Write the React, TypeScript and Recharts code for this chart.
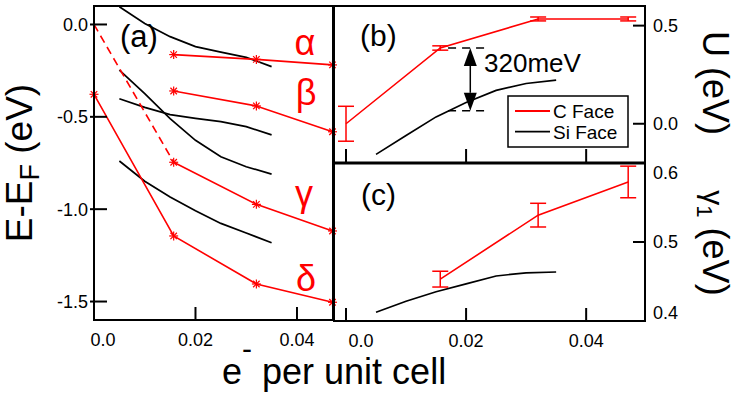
import React from "react";
import { LineChart, Line, XAxis, YAxis, ErrorBar, ReferenceLine, Legend } from "recharts";

// doping (e- per unit cell)
const cFaceDoping = [0, 0.0157, 0.032, 0.047];
const siFaceDoping = [0.005, 0.01, 0.015, 0.02, 0.025, 0.03, 0.035];

// (a) band energies E-EF (eV), C face
const alphaC = [null, -0.163, -0.189, -0.219];
const betaC = [null, -0.36, -0.441, -0.581];
const gammaC = [0.0, -0.746, -0.974, -1.118];
const deltaC = [-0.378, -1.145, -1.405, -1.504];

// (a) Si face bands
const siBand1 = [0.096, 0.005, -0.066, -0.12, -0.15, -0.178, -0.228];
const siBand2 = [-0.247, -0.375, -0.51, -0.627, -0.716, -0.77, -0.81];
const siBand3 = [-0.402, -0.449, -0.488, -0.508, -0.526, -0.553, -0.598];
const siBand4 = [-0.739, -0.849, -0.934, -1.008, -1.077, -1.129, -1.182];

// (b) U (eV)
const uC = [0.0, 0.386, 0.534, 0.534];
const uCErr = [0.089, 0.011, 0.01, 0.01];
const uSi = [-0.156, -0.06, 0.035, 0.108, 0.17, 0.205, 0.222];

// (c) gamma1 (eV)
const g1C = [null, 0.453, 0.534, 0.576];
const g1CErr = [null, 0.01, 0.015, 0.02];
const g1Si = [0.411, 0.425, 0.437, 0.447, 0.457, 0.461, 0.462];

// 320 meV marker in (b)
const gapTop = 0.386;
const gapBottom = 0.066;
const gapFrom = 0.017;
const gapTo = 0.0237;
const gapArrowX = 0.0207;

const xTicks = [0, 0.02, 0.04];
const energyTicks = [0, -0.5, -1.0, -1.5];
const uTicks = [0.5, 0.0];
const g1Ticks = [0.4, 0.5, 0.6];

const W = 737;
const H = 397;
const boxA = { l: 94, t: 6, r: 333, b: 320 };
const boxB = { l: 334, t: 6, r: 645, b: 163 };
const boxC = { l: 334, t: 163, r: 645, b: 321 };

const RED = "#ff0000";
const FONT = "'Liberation Sans', Arial, sans-serif";

const pts = (xs: number[], ys: (number | null)[], err?: (number | null)[]) =>
  xs
    .map((x, i) => ({ x, y: ys[i], err: err ? err[i] : undefined }))
    .filter((p) => p.y != null);

const Star = (props: any) => {
  const { cx, cy } = props;
  if (cx == null || cy == null) return null;
  const r = 4.5;
  const d = r * 0.72;
  return (
    <g key={`s-${cx}-${cy}`} stroke={RED} strokeWidth={1.2}>
      <line x1={cx - r} x2={cx + r} y1={cy} y2={cy} />
      <line x1={cx} x2={cx} y1={cy - r} y2={cy + r} />
      <line x1={cx - d} x2={cx + d} y1={cy - d} y2={cy + d} />
      <line x1={cx - d} x2={cx + d} y1={cy + d} y2={cy - d} />
    </g>
  );
};

const fmtX = (v: number) => (v === 0 ? "0.0" : v.toFixed(2));

const LeftTickA = ({ x, y, payload }: any) => (
  <g>
    <line x1={x + 2} x2={x + 19} y1={y} y2={y} stroke="#000" strokeWidth={2} />
    <text x={x} y={y} dy="0.36em" textAnchor="end" fontSize={18} fontFamily={FONT} fill="#000">
      {payload.value.toFixed(1)}
    </text>
  </g>
);

// zeroShift moves the "0.0" label off the panel corner, as in the original
const BottomTick = ({ x, y, payload, zeroShift = 0 }: any) => (
  <g>
    <line x1={x} x2={x} y1={y - 13} y2={y - 26} stroke="#000" strokeWidth={2} />
    <text
      x={x + (payload.value === 0 ? zeroShift : 0)}
      y={y}
      dy="0.72em"
      textAnchor="middle"
      fontSize={18}
      fontFamily={FONT}
      fill="#000"
    >
      {fmtX(payload.value)}
    </text>
  </g>
);

const BottomTickOnly = ({ x, y }: any) => (
  <line x1={x} x2={x} y1={y} y2={y - 14} stroke="#000" strokeWidth={2} />
);

const LeftTickOnly = ({ x, y, payload }: any) =>
  payload.value === 0.4 || payload.value === 0.6 ? <g /> : (
    <line x1={x} x2={x + 12} y1={y} y2={y} stroke="#000" strokeWidth={2} />
  );

const rightNudge: Record<string, number> = { "0.6": 10, "0.4": -8 };

const RightTick = ({ x, y, payload, nudge }: any) => {
  const label = payload.value.toFixed(1);
  const dy = nudge ? rightNudge[label] || 0 : 0;
  const edge = nudge && (label === "0.6" || label === "0.4");
  return (
    <g>
      {!edge && <line x1={x - 8} x2={x - 20} y1={y} y2={y} stroke="#000" strokeWidth={2} />}
      <text x={x} y={y + dy} dy="0.36em" textAnchor="start" fontSize={18} fontFamily={FONT} fill="#000">
        {label}
      </text>
    </g>
  );
};

const GapArrow = (props: any) => {
  const { x1, y1, x2, y2 } = props;
  const top = Math.min(y1, y2);
  const bot = Math.max(y1, y2);
  const len = 18;
  const hw = 6.5;
  return (
    <g>
      <line x1={x1} x2={x2} y1={top + len} y2={bot - len} stroke="#000" strokeWidth={1.5} />
      <polygon points={`${x1},${top} ${x1 - hw},${top + len} ${x1 + hw},${top + len}`} fill="#000" />
      <polygon points={`${x1},${bot} ${x1 - hw},${bot - len} ${x1 + hw},${bot - len}`} fill="#000" />
    </g>
  );
};

const LegendBox = ({ payload }: any) => (
  <svg width={122} height={53} style={{ display: "block" }}>
    <rect x={1} y={1} width={120} height={51} fill="#fff" stroke="#000" strokeWidth={1.5} />
    {(payload || []).map((p: any, i: number) => (
      <g key={p.value}>
        <line x1={8} x2={43} y1={16 + i * 20.7} y2={16 + i * 20.7} stroke={p.color} strokeWidth={1.8} />
        <text x={46} y={16 + i * 20.7} dy="0.36em" fontSize={19} fontFamily={FONT} fill="#000">
          {p.value}
        </text>
      </g>
    ))}
  </svg>
);

const abs: React.CSSProperties = { position: "absolute", left: 0, top: 0 };

export default function App() {
  const gammaLead = pts(cFaceDoping.slice(0, 2), gammaC.slice(0, 2));
  const gammaRest = pts(cFaceDoping.slice(1), gammaC.slice(1));
  const siBands = [siBand1, siBand2, siBand3, siBand4];
  const redBands = [alphaC, betaC, deltaC];

  return (
    <div style={{ position: "absolute", left: 0, top: 0, width: W, height: H, background: "#fff", fontFamily: FONT }}>
      {/* panel (a) */}
      <div style={abs}>
        <LineChart
          width={W}
          height={H}
          margin={{ top: boxA.t, left: boxA.l - 60, right: W - boxA.r, bottom: H - boxA.b - 40 }}
        >
          <XAxis
            type="number"
            dataKey="x"
            domain={[0, 0.0471]}
            ticks={xTicks}
            interval={0}
            height={40}
            axisLine={false}
            tickLine={false}
            tickSize={0}
            tickMargin={13}
            tick={<BottomTick zeroShift={9} />}
          />
          <YAxis
            type="number"
            domain={[-1.6, 0.1]}
            ticks={energyTicks}
            interval={0}
            width={60}
            axisLine={false}
            tickLine={false}
            tickSize={0}
            tickMargin={6}
            tick={<LeftTickA />}
          />
          {siBands.map((b, i) => (
            <Line
              key={`si-${i}`}
              data={pts(siFaceDoping, b)}
              dataKey="y"
              stroke="#000"
              strokeWidth={1.7}
              dot={false}
              isAnimationActive={false}
            />
          ))}
          {redBands.map((b, i) => (
            <Line
              key={`c-${i}`}
              data={pts(cFaceDoping, b)}
              dataKey="y"
              stroke={RED}
              strokeWidth={1.6}
              dot={Star}
              isAnimationActive={false}
            />
          ))}
          <Line
            data={gammaLead}
            dataKey="y"
            stroke={RED}
            strokeWidth={1.6}
            strokeDasharray="8 5"
            dot={false}
            isAnimationActive={false}
          />
          <Line
            data={gammaRest}
            dataKey="y"
            stroke={RED}
            strokeWidth={1.6}
            dot={Star}
            isAnimationActive={false}
          />
        </LineChart>
      </div>

      {/* panel (b) */}
      <div style={abs}>
        <LineChart
          width={W}
          height={H}
          margin={{ top: boxB.t, left: boxB.l - 10, right: W - boxB.r - 60, bottom: H - boxB.b - 10 }}
        >
          <XAxis
            type="number"
            dataKey="x"
            domain={[-0.002, 0.0498]}
            ticks={xTicks}
            interval={0}
            height={10}
            axisLine={false}
            tickLine={false}
            tickSize={0}
            tickMargin={0}
            tick={<BottomTickOnly />}
          />
          <YAxis
            yAxisId="l"
            type="number"
            domain={[-0.2, 0.6]}
            ticks={uTicks}
            interval={0}
            width={10}
            axisLine={false}
            tickLine={false}
            tickSize={0}
            tickMargin={0}
            tick={<LeftTickOnly />}
          />
          <YAxis
            yAxisId="r"
            orientation="right"
            type="number"
            domain={[-0.2, 0.6]}
            ticks={uTicks}
            interval={0}
            width={60}
            axisLine={false}
            tickLine={false}
            tickSize={0}
            tickMargin={8}
            tick={<RightTick />}
          />
          <Line
            yAxisId="r"
            name="C Face"
            data={pts(cFaceDoping, uC, uCErr)}
            dataKey="y"
            stroke={RED}
            strokeWidth={1.6}
            dot={false}
            isAnimationActive={false}
          >
            <ErrorBar dataKey="err" width={8} stroke={RED} strokeWidth={1.5} direction="y" isAnimationActive={false} />
          </Line>
          <Line
            yAxisId="r"
            name="Si Face"
            data={pts(siFaceDoping, uSi)}
            dataKey="y"
            stroke="#000"
            strokeWidth={1.7}
            dot={false}
            isAnimationActive={false}
          />
          <ReferenceLine
            yAxisId="r"
            segment={[{ x: gapFrom, y: gapTop }, { x: gapTo, y: gapTop }]}
            stroke="#000"
            strokeWidth={1.5}
            strokeDasharray="8 6"
          />
          <ReferenceLine
            yAxisId="r"
            segment={[{ x: gapFrom, y: gapBottom }, { x: gapTo, y: gapBottom }]}
            stroke="#000"
            strokeWidth={1.5}
            strokeDasharray="8 6"
          />
          <ReferenceLine
            yAxisId="r"
            segment={[{ x: gapArrowX, y: gapTop }, { x: gapArrowX, y: gapBottom }]}
            shape={GapArrow}
          />
          <Legend
            layout="vertical"
            align="center"
            verticalAlign="middle"
            wrapperStyle={{ position: "absolute", left: 507, top: 95, width: 122, height: 53 }}
            content={LegendBox}
          />
        </LineChart>
      </div>

      {/* panel (c) */}
      <div style={abs}>
        <LineChart
          width={W}
          height={H}
          margin={{ top: boxC.t, left: boxC.l - 10, right: W - boxC.r - 60, bottom: H - boxC.b - 40 }}
        >
          <XAxis
            type="number"
            dataKey="x"
            domain={[-0.002, 0.0498]}
            ticks={xTicks}
            interval={0}
            height={40}
            axisLine={false}
            tickLine={false}
            tickSize={0}
            tickMargin={13}
            tick={<BottomTick zeroShift={15} />}
          />
          <YAxis
            yAxisId="l"
            type="number"
            domain={[0.4, 0.6]}
            ticks={g1Ticks}
            interval={0}
            width={10}
            axisLine={false}
            tickLine={false}
            tickSize={0}
            tickMargin={0}
            tick={<LeftTickOnly />}
          />
          <YAxis
            yAxisId="r"
            orientation="right"
            type="number"
            domain={[0.4, 0.6]}
            ticks={g1Ticks}
            interval={0}
            width={60}
            axisLine={false}
            tickLine={false}
            tickSize={0}
            tickMargin={8}
            tick={<RightTick nudge />}
          />
          <Line
            yAxisId="r"
            data={pts(cFaceDoping, g1C, g1CErr)}
            dataKey="y"
            stroke={RED}
            strokeWidth={1.6}
            dot={false}
            isAnimationActive={false}
          >
            <ErrorBar dataKey="err" width={8} stroke={RED} strokeWidth={1.5} direction="y" isAnimationActive={false} />
          </Line>
          <Line
            yAxisId="r"
            data={pts(siFaceDoping, g1Si)}
            dataKey="y"
            stroke="#000"
            strokeWidth={1.7}
            dot={false}
            isAnimationActive={false}
          />
        </LineChart>
      </div>

      {/* frames and annotation text */}
      <svg width={W} height={H} style={{ ...abs, pointerEvents: "none" }} fontFamily={FONT}>
        {[boxA, boxB, boxC].map((b, i) => (
          <rect key={i} x={b.l} y={b.t} width={b.r - b.l} height={b.b - b.t} fill="none" stroke="#000" strokeWidth={2} />
        ))}
        <line x1={boxB.l} x2={boxB.r} y1={boxB.b} y2={boxB.b} stroke="#000" strokeWidth={3} />
        <line x1={boxA.r + 0.5} x2={boxA.r + 0.5} y1={boxA.t} y2={boxC.b} stroke="#000" strokeWidth={3} />

        <text x={32} y={163} transform="rotate(-90 32 163)" textAnchor="middle" fontSize={37}>
          E-E<tspan fontSize={27} dy={7}>F</tspan>
          <tspan dy={-7}> (eV)</tspan>
        </text>
        <text x={222} y={384} fontSize={36}>
          e<tspan fontSize={30} dy={-25}>-</tspan>
          <tspan dy={25}> per unit cell</tspan>
        </text>
        <text x={703} y={83} transform="rotate(90 703 83)" textAnchor="middle" fontSize={36}>
          U (eV)
        </text>
        <text x={703} y={243} transform="rotate(90 703 243)" textAnchor="middle" fontSize={36}>
          <tspan fontSize={30}>γ</tspan>
          <tspan fontSize={22} dy={6}>1</tspan>
          <tspan dy={-6}> (eV)</tspan>
        </text>

        <text x={120} y={47} fontSize={31}>(a)</text>
        <text x={360} y={46} fontSize={30}>(b)</text>
        <text x={361} y={205} fontSize={30}>(c)</text>
        <text x={484} y={72} fontSize={26}>320meV</text>

        <g fill={RED} fontSize={36} textAnchor="middle">
          <text x={305} y={55}>α</text>
          <text x={306} y={105}>β</text>
          <text x={304} y={206}>γ</text>
          <text x={306} y={291}>δ</text>
        </g>
      </svg>
    </div>
  );
}
